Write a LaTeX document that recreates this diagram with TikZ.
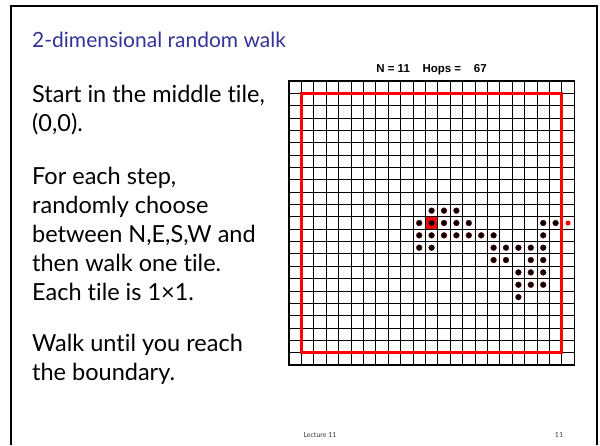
\documentclass[tikz,border=0pt]{standalone}
\usepackage{fontspec}
\setmainfont{Lato}[Ligatures=NoCommon]
\newfontfamily\plotfont{Liberation Sans}
\definecolor{titleblue}{RGB}{51,51,153}
\definecolor{dotrim}{RGB}{120,0,0}
\definecolor{footgray}{RGB}{60,60,60}
\begin{document}
\begin{tikzpicture}[x=1pt,y=-1pt,
  bodytext/.style={anchor=base west, inner sep=0pt, font=\fontsize{23.5}{28}\selectfont},
  titletext/.style={anchor=base west, inner sep=0pt, text=titleblue, font=\fontsize{21}{25}\selectfont},
  foot/.style={anchor=base, inner sep=0pt, text=footgray, font=\fontsize{7}{8}\selectfont},
  plotlabel/.style={anchor=base, inner sep=0pt, font=\plotfont\bfseries\fontsize{11.5}{13}\selectfont},
  gridline/.style={line width=0.8pt, black},
  boundary/.style={line width=2.8pt, red},
  walkdot/.style={fill=black, draw=dotrim, line width=0.4pt},
  enddot/.style={fill=red},
  starttile/.style={fill=red, draw=black, line width=1pt}]
\useasboundingbox (0,0) rectangle (600,445);
\fill[white] (0,0) rectangle (600,445);
\draw[line width=2pt] (11,445) -- (11,6) -- (597,6) -- (597,445);

\node[titletext] (title) at (32,47) {2-dimensional random walk};
\node[bodytext] (l1) at (32,102) {Start in the middle tile,};
\node[bodytext] (l2) at (32,131) {(0,0).};
\node[bodytext] (l3) at (32,184) {For each step,};
\node[bodytext] (l4) at (32,213) {randomly choose};
\node[bodytext] (l5) at (32,242) {between N,E,S,W and};
\node[bodytext] (l6) at (32,271) {then walk one tile.};
\node[bodytext] (l7) at (32,300) {Each tile is 1×1.};
\node[bodytext] (l8) at (32,351) {Walk until you reach};
\node[bodytext] (l9) at (32,380) {the boundary.};

\node[plotlabel] (plab) at (431.5,72) {N = 11\hspace{1.1em}Hops =\hspace{1.1em}67};
\node[foot] (lect) at (320,437) {Lecture 11};
\node[foot] (pnum) at (559,437) {11};

\begin{scope}[xshift=431.6pt, yshift=-223pt, x=12.4pt, y=12.35pt]
  \foreach \i in {-11.5,-10.5,...,11.6} {
    \draw[gridline] (\i,-11.5) -- (\i,11.5);
    \draw[gridline] (-11.5,\i) -- (11.5,\i);
  }
  \draw[line width=1.4pt] (-11.5,-11.5) rectangle (11.5,11.5);
  \draw[boundary] (-10.5,-10.5) rectangle (10.5,10.5);
  \draw[starttile] (-0.5,-0.5) rectangle (0.5,0.5);
  \foreach \px/\py in {0/1,1/1,2/1,
      -1/0,0/0,1/0,2/0,3/0,9/0,10/0,
      -1/-1,0/-1,1/-1,2/-1,3/-1,4/-1,5/-1,9/-1,
      -1/-2,0/-2,5/-2,6/-2,7/-2,8/-2,9/-2,
      5/-3,6/-3,8/-3,9/-3,
      7/-4,8/-4,9/-4,
      7/-5,8/-5,9/-5,
      7/-6} {
    \filldraw[walkdot] (\px,\py) circle[radius=2.9pt];
  }
  \fill[enddot] (11,0) circle[radius=2.5pt];
\end{scope}
\end{tikzpicture}
\end{document}
